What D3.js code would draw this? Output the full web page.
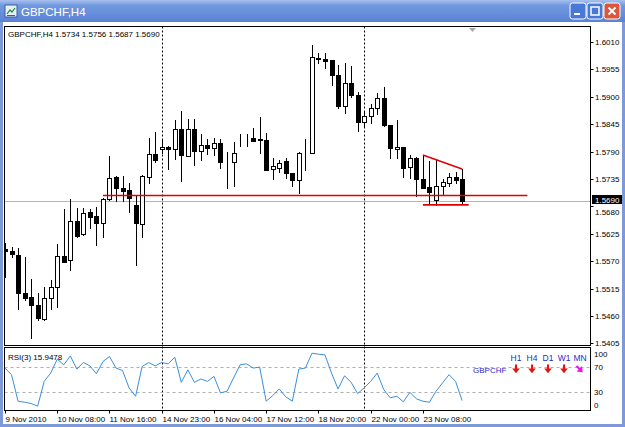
<!DOCTYPE html>
<html>
<head>
<meta charset="utf-8">
<script src="https://cdn.jsdelivr.net/npm/d3@7"></script>
<style>
  body { margin: 0; background: #fff; }
  svg { display: block; font-family: "Liberation Sans", Arial, sans-serif; }
</style>
</head>
<body>
<div id="chart"></div>
<script>
// GBPCHF H4 bars, 9 Nov 2010 .. 24 Nov 2010
const opens = [1.5595, 1.5591, 1.5583, 1.5506, 1.5498, 1.5482, 1.5454, 1.5496, 1.5518, 1.5581,
  1.5573, 1.5651, 1.5625, 1.5669, 1.5661, 1.5647, 1.5695, 1.5739, 1.5716, 1.5712,
  1.5683, 1.5644, 1.5740, 1.5785, 1.5795, 1.5800, 1.5795, 1.5835, 1.5781, 1.5835,
  1.5792, 1.5803, 1.5797, 1.5807, 1.5772, 1.5770, 1.5813, 1.5815, 1.5817, 1.5815,
  1.5813, 1.5755, 1.5758, 1.5772, 1.5748, 1.5732, 1.5787, 1.5788, 1.5978, 1.5976,
  1.5974, 1.5944, 1.5882, 1.5928, 1.5904, 1.5850, 1.5861, 1.5877, 1.5897, 1.5843,
  1.5795, 1.5800, 1.5759, 1.5777, 1.5734, 1.5718, 1.5693, 1.5721, 1.5726, 1.5740,
  1.5734];
const highs = [1.5607, 1.5599, 1.5597, 1.5579, 1.5534, 1.5506, 1.5518, 1.5532, 1.5605, 1.5675,
  1.5695, 1.5677, 1.5677, 1.5675, 1.5679, 1.5697, 1.5782, 1.5742, 1.5741, 1.5726,
  1.5700, 1.5743, 1.5817, 1.5829, 1.5815, 1.5801, 1.5853, 1.5872, 1.5855, 1.5855,
  1.5825, 1.5816, 1.5817, 1.5815, 1.5790, 1.5810, 1.5825, 1.5825, 1.5837, 1.5860,
  1.5827, 1.5777, 1.5773, 1.5777, 1.5748, 1.5790, 1.5815, 1.6004, 1.5987, 1.5987,
  1.5974, 1.5964, 1.5967, 1.5962, 1.5910, 1.5870, 1.5886, 1.5907, 1.5920, 1.5843,
  1.5853, 1.5800, 1.5783, 1.5780, 1.5783, 1.5771, 1.5773, 1.5736, 1.5748, 1.5750,
  1.5756];
const lows = [1.5538, 1.5579, 1.5474, 1.5492, 1.5416, 1.5452, 1.5452, 1.5474, 1.5478, 1.5568,
  1.5552, 1.5619, 1.5623, 1.5637, 1.5603, 1.5619, 1.5693, 1.5690, 1.5690, 1.5669,
  1.5562, 1.5618, 1.5726, 1.5770, 1.5787, 1.5756, 1.5775, 1.5730, 1.5781, 1.5763,
  1.5773, 1.5785, 1.5783, 1.5757, 1.5716, 1.5720, 1.5801, 1.5801, 1.5812, 1.5787,
  1.5753, 1.5734, 1.5750, 1.5738, 1.5720, 1.5706, 1.5754, 1.5787, 1.5967, 1.5957,
  1.5924, 1.5877, 1.5868, 1.5899, 1.5832, 1.5839, 1.5848, 1.5866, 1.5841, 1.5777,
  1.5777, 1.5740, 1.5738, 1.5701, 1.5716, 1.5685, 1.5682, 1.5703, 1.5721, 1.5726,
  1.5687];
const closes = [1.5591, 1.5584, 1.5506, 1.5496, 1.5482, 1.5456, 1.5496, 1.5518, 1.5581, 1.5569,
  1.5651, 1.5621, 1.5667, 1.5659, 1.5647, 1.5695, 1.5738, 1.5716, 1.5711, 1.5696,
  1.5647, 1.5741, 1.5785, 1.5774, 1.5800, 1.5795, 1.5835, 1.5783, 1.5835, 1.5792,
  1.5803, 1.5798, 1.5808, 1.5770, 1.5771, 1.5787, 1.5814, 1.5816, 1.5812, 1.5814,
  1.5753, 1.5761, 1.5768, 1.5748, 1.5732, 1.5787, 1.5788, 1.5979, 1.5975, 1.5972,
  1.5944, 1.5882, 1.5928, 1.5904, 1.5850, 1.5861, 1.5877, 1.5897, 1.5843, 1.5797,
  1.5800, 1.5757, 1.5777, 1.5734, 1.5717, 1.5708, 1.5721, 1.5729, 1.5740, 1.5732,
  1.5690];
const rsi = [68.4, 57.7, 15, 13.4, 11.3, 7, 47, 60.4, 82.8, 73.7,
  88, 66.8, 77.4, 72, 59.3, 79, 87, 68.4, 64.6, 36.4,
  23, 71, 77.4, 72, 77.4, 75.3, 86, 45.4, 65.7, 45.4,
  50.8, 47, 55, 28.4, 31, 52.4, 73.7, 75.3, 68.4, 70,
  15, 24, 34.8, 22, 15, 66.8, 68.4, 92.4, 90.8, 89.7,
  60.4, 34.8, 56, 45.4, 27.3, 36.4, 47, 60.4, 33.7, 20.4,
  23, 14, 29.4, 18.8, 15, 13.4, 31, 44.4, 57.7, 47,
  15.9478];

const timeIdx = [0, 8, 16, 24, 32, 40, 48, 56, 64];
const timeLabels = ["9 Nov 2010", "10 Nov 08:00", "11 Nov 16:00", "14 Nov 23:00", "16 Nov 04:00",
  "17 Nov 12:00", "18 Nov 20:00", "22 Nov 00:00", "23 Nov 08:00"];
const priceTicks = [1.6010, 1.5955, 1.5900, 1.5845, 1.5790, 1.5735, 1.5680, 1.5625, 1.5570, 1.5515, 1.5460, 1.5405];
const rsiLevels = [100, 70, 30, 0];
const weekStarts = [24, 55];
const bidPrice = 1.5690;
// drawn objects: [bar from, price from, bar to, price to]
const redLines = [[15, 1.5702, 80, 1.5702], [64, 1.5783, 70, 1.5755], [64, 1.5683, 71, 1.5683]];
const tfNames = ["H1", "H4", "D1", "W1", "MN"];
const tfDown = [true, true, true, true, false];

const W = 625, H = 427;
const left = 4.5, right = 590.5;
const mainTop = 26.5, mainBot = 345.5, rsiTop = 347.5, rsiBot = 410.5;

const x = d3.scaleLinear().domain([0, opens.length - 1]).range([5, 462.1]);
const y = d3.scaleLinear().domain([1.5405, 1.6010]).range([343.4, 42]);
const yR = d3.scaleLinear().domain([0, 100]).range([410.5, 348.5]);
const fmt = d3.format(".4f");

const svg = d3.select("#chart").append("svg").attr("width", W).attr("height", H);
const defs = svg.append("defs");

const grad = defs.append("linearGradient").attr("id", "titlebar")
  .attr("x1", 0).attr("y1", 0).attr("x2", 0).attr("y2", 1);
grad.append("stop").attr("offset", "0%").attr("stop-color", "#a8c1ef");
grad.append("stop").attr("offset", "25%").attr("stop-color", "#7199e0");
grad.append("stop").attr("offset", "100%").attr("stop-color", "#5a82d4");

defs.append("clipPath").attr("id", "clipMain").append("rect")
  .attr("x", left + 0.5).attr("y", mainTop + 0.5).attr("width", right - left - 1).attr("height", mainBot - mainTop - 1);
defs.append("clipPath").attr("id", "clipRsi").append("rect")
  .attr("x", left + 0.5).attr("y", rsiTop + 0.5).attr("width", right - left - 1).attr("height", rsiBot - rsiTop - 1);

// window frame
svg.append("rect").attr("width", W).attr("height", H).attr("fill", "#7d9ad8");
svg.append("rect").attr("x", 3).attr("y", 22).attr("width", W - 6).attr("height", H - 25).attr("fill", "#fff");
svg.append("rect").attr("width", W).attr("height", 22).attr("fill", "url(#titlebar)");

// title icon + text
const icon = svg.append("g").attr("transform", "translate(5,5)");
icon.append("rect").attr("width", 12).attr("height", 12).attr("fill", "#e8eef8").attr("stroke", "#3a5ea8");
icon.append("path").attr("d", "M2,9 L5,5 L7,7 L10,3").attr("fill", "none").attr("stroke", "#1c8c2c").attr("stroke-width", 1.2);
icon.append("path").attr("d", "M2,10.5 H10").attr("stroke", "#c03030");
svg.append("text").attr("x", 21).attr("y", 15.5).attr("font-size", 11.5).attr("fill", "#fff")
  .text("GBPCHF,H4");

// caption buttons
const btns = [[570, "min"], [587, "max"], [604, "close"]];
btns.forEach(([bx, kind]) => {
  const g = svg.append("g").attr("transform", `translate(${bx},3)`);
  g.append("rect").attr("width", 16).attr("height", 16).attr("rx", 2.5)
    .attr("fill", kind === "close" ? "#d9573a" : "#4a78d8").attr("stroke", "#fff").attr("stroke-width", 1);
  if (kind === "min") g.append("rect").attr("x", 4).attr("y", 10).attr("width", 6).attr("height", 2).attr("fill", "#fff");
  if (kind === "max") g.append("rect").attr("x", 4).attr("y", 4).attr("width", 8).attr("height", 8)
    .attr("fill", "none").attr("stroke", "#fff").attr("stroke-width", 1.5);
  if (kind === "close") g.append("path").attr("d", "M4.5,4.5 L11.5,11.5 M11.5,4.5 L4.5,11.5")
    .attr("stroke", "#fff").attr("stroke-width", 2);
});

// panels
svg.append("rect").attr("x", left).attr("y", mainTop).attr("width", right - left).attr("height", mainBot - mainTop)
  .attr("fill", "#fff").attr("stroke", "#000");
svg.append("rect").attr("x", left).attr("y", rsiTop).attr("width", right - left).attr("height", rsiBot - rsiTop)
  .attr("fill", "#fff").attr("stroke", "#000");

const px = (i) => Math.round(x(i)) + 0.5;

// week separators
svg.append("g").selectAll("line").data(weekStarts).join("line")
  .attr("x1", px).attr("x2", px).attr("y1", mainTop).attr("y2", rsiBot)
  .attr("stroke", "#000").attr("stroke-dasharray", "2,2");

// main chart
const main = svg.append("g").attr("clip-path", "url(#clipMain)");

main.append("line").attr("x1", left).attr("x2", right)
  .attr("y1", Math.round(y(bidPrice)) + 0.5).attr("y2", Math.round(y(bidPrice)) + 0.5)
  .attr("stroke", "#b4b4b4");

const bars = d3.range(opens.length);
main.append("g").selectAll("line").data(bars).join("line")
  .attr("x1", px).attr("x2", px)
  .attr("y1", (i) => Math.round(y(highs[i])))
  .attr("y2", (i) => Math.round(y(lows[i])) + 1)
  .attr("stroke", "#000");

main.append("g").selectAll("rect").data(bars).join("rect")
  .attr("x", (i) => px(i) - 2)
  .attr("y", (i) => Math.round(y(Math.max(opens[i], closes[i]))) + 0.5)
  .attr("width", 4)
  .attr("height", (i) => Math.max(0, Math.round(y(Math.min(opens[i], closes[i]))) - Math.round(y(Math.max(opens[i], closes[i])))))
  .attr("fill", (i) => (closes[i] >= opens[i] ? "#fff" : "#000"))
  .attr("stroke", "#000");

main.append("g").selectAll("line").data(redLines).join("line")
  .attr("x1", (d) => x(d[0])).attr("y1", (d) => y(d[1]))
  .attr("x2", (d) => x(d[2])).attr("y2", (d) => y(d[3]))
  .attr("stroke", "#e00000").attr("stroke-width", 1.6);

// chart shift marker
svg.append("path").attr("d", "M469,28 h7 l-3.5,4 z").attr("fill", "#a8a8a8");

// header
svg.append("text").attr("x", 8).attr("y", 37).attr("font-size", 8).attr("fill", "#000")
  .text("GBPCHF,H4  " + [opens[70], highs[70], lows[70], closes[70]].map(fmt).join(" "));

// price axis (the label under the bid box peeks out below it)
const pa = svg.append("g").attr("font-size", 8).attr("fill", "#000");
pa.selectAll("line").data(priceTicks).join("line")
  .attr("x1", right).attr("x2", right + 3)
  .attr("y1", (d) => Math.round(y(d)) + 0.5).attr("y2", (d) => Math.round(y(d)) + 0.5)
  .attr("stroke", "#000");
pa.selectAll("text").data(priceTicks).join("text")
  .attr("x", 595).attr("y", (d) => y(d) + 3 + (Math.abs(d - bidPrice) < 0.002 ? 5.6 : 0))
  .text(fmt);
const bidY = Math.round(y(bidPrice));
svg.append("rect").attr("x", 592).attr("y", bidY - 6).attr("width", 30).attr("height", 9).attr("fill", "#000");
svg.append("text").attr("x", 595).attr("y", bidY + 1.8).attr("font-size", 8).attr("fill", "#fff").text(fmt(bidPrice));

// RSI panel
const rp = svg.append("g").attr("clip-path", "url(#clipRsi)");
rp.selectAll("line").data([70, 30]).join("line")
  .attr("x1", left).attr("x2", right)
  .attr("y1", (d) => Math.round(yR(d)) + 0.5).attr("y2", (d) => Math.round(yR(d)) + 0.5)
  .attr("stroke", "#b0b0b0").attr("stroke-dasharray", "3,3");
rp.append("path").datum(rsi)
  .attr("d", d3.line().x((d, i) => x(i)).y((d) => yR(d)))
  .attr("fill", "none").attr("stroke", "#3a8fdc").attr("stroke-width", 1);

svg.append("text").attr("x", 8).attr("y", 359.5).attr("font-size", 8).attr("fill", "#000")
  .text("RSI(3) " + rsi[rsi.length - 1].toFixed(4));

const rsiLabelY = { 100: 357, 70: 370.3, 30: 394.7, 0: 408 };
svg.append("g").attr("font-size", 8).selectAll("text").data(rsiLevels).join("text")
  .attr("x", 594).attr("y", (d) => rsiLabelY[d]).text((d) => d);

// multi timeframe signal block
const tfX = d3.scalePoint().domain(tfNames).range([516, 580]);
const sig = svg.append("g").attr("fill", "#2a2ac8");
sig.selectAll("text").data(tfNames).join("text")
  .attr("x", (d) => tfX(d)).attr("y", 361).attr("font-size", 8.5).attr("text-anchor", "middle").text((d) => d);
sig.append("text").attr("x", 473).attr("y", 373).attr("font-size", 8).text("GBPCHF");
const arrowDown = "M-1,-5 h2 v4 h2.8 l-3.8,4.8 l-3.8,-4.8 h2.8 z";
svg.append("g").selectAll("path").data(tfNames).join("path")
  .attr("d", arrowDown)
  .attr("transform", (d, i) => `translate(${tfX(d)},369.5)` + (tfDown[i] ? "" : " rotate(-45)"))
  .attr("fill", (d, i) => (tfDown[i] ? "#e81010" : "#f010f0"));

// time axis
const ta = svg.append("g").attr("font-size", 8).attr("fill", "#000");
ta.selectAll("line").data(timeIdx).join("line")
  .attr("x1", px).attr("x2", px).attr("y1", rsiBot).attr("y2", rsiBot + 3)
  .attr("stroke", "#000");
ta.selectAll("text").data(timeIdx).join("text")
  .attr("x", (d) => px(d)).attr("y", 422)
  .text((d, i) => timeLabels[i]);
</script>
</body>
</html>
